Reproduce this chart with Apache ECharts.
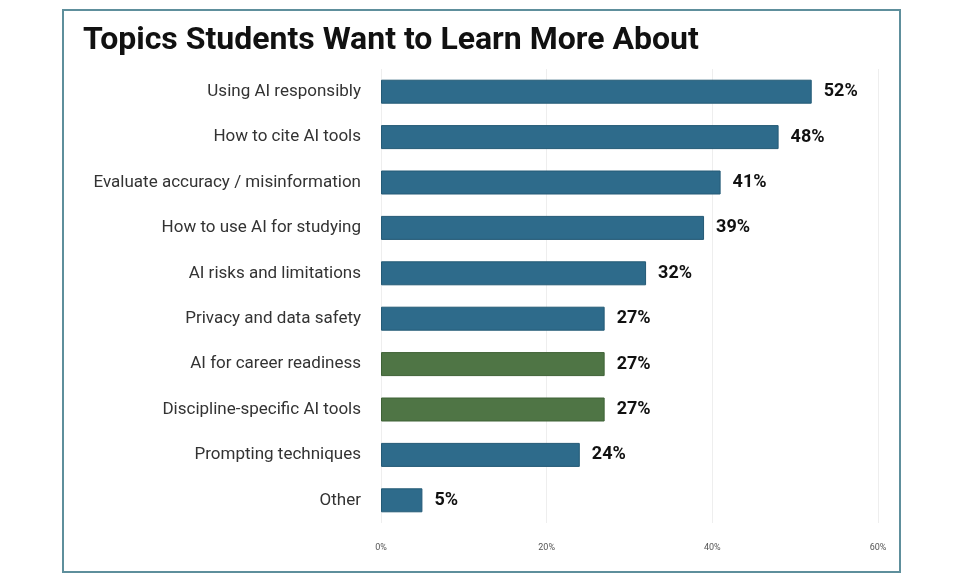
<!DOCTYPE html>
<html><head><meta charset="utf-8">
<script src="https://cdn.jsdelivr.net/npm/echarts@6/dist/echarts.min.js"></script>
<style>html,body{margin:0;padding:0;background:#fff}#c{width:970px;height:580px}</style>
</head><body><div id="c"></div>
<script>
const categories = ["Using AI responsibly","How to cite AI tools","Evaluate accuracy / misinformation","How to use AI for studying","AI risks and limitations","Privacy and data safety","AI for career readiness","Discipline-specific AI tools","Prompting techniques","Other"];
const values = [52,48,41,39,32,27,27,27,24,5];
const highlighted = [false,false,false,false,false,false,true,true,false,false];
const xTicks = [0,20,40,60];
const chart = echarts.init(document.getElementById('c'));
chart.setOption({
  animation:false,
  title:{text:'Topics Students Want to Learn More About',left:78,top:20,textStyle:{fontFamily:'Roboto',fontWeight:'bold',fontSize:32,color:'#111'}},
  graphic:[{type:'rect',shape:{x:63,y:10,width:837,height:562},style:{fill:'none',stroke:'#5e8f9c',lineWidth:2}}],
  grid:{left:381,right:92,top:69,bottom:57},
  xAxis:{type:'value',min:0,max:60,interval:20,
    axisLabel:{formatter:v=>v+'%',fontSize:9,color:'#555',fontFamily:'Roboto',margin:20},
    splitLine:{lineStyle:{color:'#eee'}},axisLine:{show:false},axisTick:{show:false}},
  yAxis:{type:'category',inverse:true,data:categories,
    axisLabel:{fontSize:17,color:'#333',fontFamily:'Roboto',margin:20},
    axisLine:{show:false},axisTick:{show:false}},
  series:[{type:'bar',barWidth:24,
    data:values.map((v,i)=>({value:v,itemStyle:{color:highlighted[i]?'#4f7545':'#2e6b8b',borderColor:highlighted[i]?'#3f6236':'#245a76',borderWidth:1}})),
    label:{show:true,position:'right',distance:12,formatter:p=>p.value+'%',fontSize:18,fontWeight:'bold',color:'#111',fontFamily:'Roboto'}}]
});
</script></body></html>
